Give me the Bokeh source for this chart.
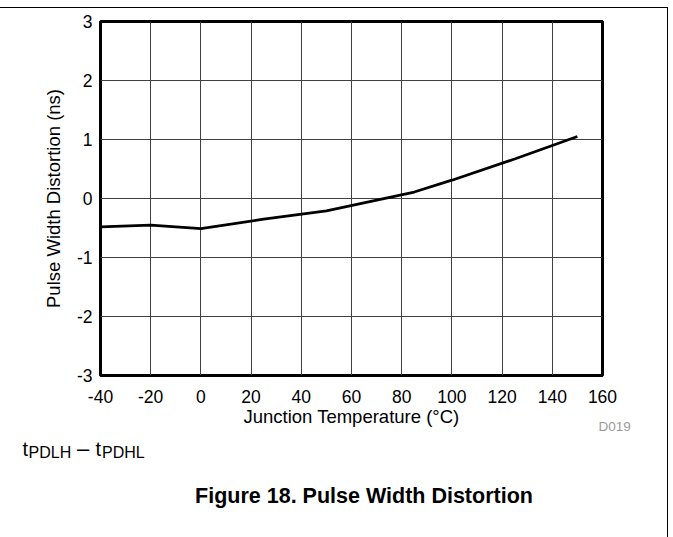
from bokeh.plotting import figure
from bokeh.models import FixedTicker, Label, Range1d, CustomJSTickFormatter
from bokeh.embed import file_html
from bokeh.resources import INLINE

# ---- data ----
temperature_c = [-40, -20, 0, 25, 50, 85, 100, 125, 150]
pulse_width_distortion_ns = [-0.48, -0.45, -0.51, -0.35, -0.21, 0.11, 0.31, 0.67, 1.05]
x_ticks = [-40, -20, 0, 20, 40, 60, 80, 100, 120, 140, 160]
y_ticks = [-3, -2, -1, 0, 1, 2, 3]
x_label = "Junction Temperature (\u00b0C)"
y_label = "Pulse Width Distortion (ns)"
caption = "Figure 18. Pulse Width Distortion"
doc_id = "D019"
note_parts = [("t", "PDLH"), ("t", "PDHL")]

FONT = "Liberation Sans"
W, H = 673, 537
XMIN, XMAX, YMIN, YMAX = -40, 160, -3, 3
FL, FR, FT, FB = 100, 602, 21, 375   # frame edges in page pixels

# page rules (top and right) drawn as the page background behind a transparent border
rules_css = ("linear-gradient(#000,#000) 0px 7px / 668px 1px no-repeat, "
             "linear-gradient(#000,#000) 667px 7px / 1px 530px no-repeat, #ffffff")

p = figure(width=W, height=H, output_backend="svg", toolbar_location=None,
           x_range=Range1d(XMIN, XMAX), y_range=Range1d(YMIN, YMAX),
           min_border_left=FL, min_border_right=W - FR, min_border_top=FT,
           min_border_bottom=H - FB)
p.styles = {"background": rules_css}
p.background_fill_color = "white"
p.border_fill_color = None
p.outline_line_color = "black"
p.outline_line_width = 3

fmt = CustomJSTickFormatter(code="return String(tick);")
for ax, ticks in ((p.xaxis, x_ticks), (p.yaxis, y_ticks)):
    ax.ticker = FixedTicker(ticks=ticks)
    ax.formatter = fmt
    ax.axis_line_color = None
    ax.major_tick_line_color = None
    ax.minor_tick_line_color = None
    ax.major_tick_out = 0
    ax.major_tick_in = 0
    ax.minor_tick_out = 0
    ax.minor_tick_in = 0
    ax.major_label_text_font = FONT
    ax.major_label_text_font_size = "17.5px"
    ax.major_label_text_color = "black"
    ax.axis_label_text_font = FONT
    ax.axis_label_text_font_size = "18.5px"
    ax.axis_label_text_font_style = "normal"
    ax.axis_label_text_color = "black"

p.xaxis.axis_label = x_label
p.yaxis.axis_label = y_label
p.xaxis.major_label_standoff = 14
p.xaxis.axis_label_standoff = 0
p.yaxis.major_label_standoff = 8
p.yaxis.axis_label_standoff = 10

p.xgrid.ticker = FixedTicker(ticks=x_ticks)
p.ygrid.ticker = FixedTicker(ticks=y_ticks)
for g in (p.xgrid, p.ygrid):
    g.grid_line_color = "#404040"
    g.grid_line_width = 1

p.line(temperature_c, pulse_width_distortion_ns, line_color="black", line_width=2.8)


# page-pixel -> data helpers for the annotations outside the frame
def px_x(px):
    return XMIN + (px - FL) * (XMAX - XMIN) / (FR - FL)


def px_y(py):
    return YMAX - (py - FT) * (YMAX - YMIN) / (FB - FT)


def add_text(text, x, y, size, place, align="left", color="black", style="normal"):
    fs = float(size.replace("px", ""))
    p.add_layout(Label(x=px_x(x), y=px_y(y - 0.43 * fs), text=text, text_font=FONT,
                       text_font_size=size, text_align=align, text_baseline="alphabetic",
                       text_color=color, text_font_style=style), place)


# spread the side-panel labels so that no border grows past its minimum
add_text(doc_id, 598, 431.5, "13.5px", "left", color="#9a9a9a")
add_text(note_parts[0][0], 22, 457.3, "20px", "right")
add_text(note_parts[0][1], 28, 459.3, "16px", "below")
add_text("\u2013", 76.5, 457.3, "22px", "right")
add_text(note_parts[1][0], 95, 457.3, "20px", "right")
add_text(note_parts[1][1], 101.5, 459.3, "16px", "above")
add_text(caption, 363.5, 505, "21.5px", "below", align="center", style="bold")

open("out.html", "w").write(file_html(p, INLINE))
